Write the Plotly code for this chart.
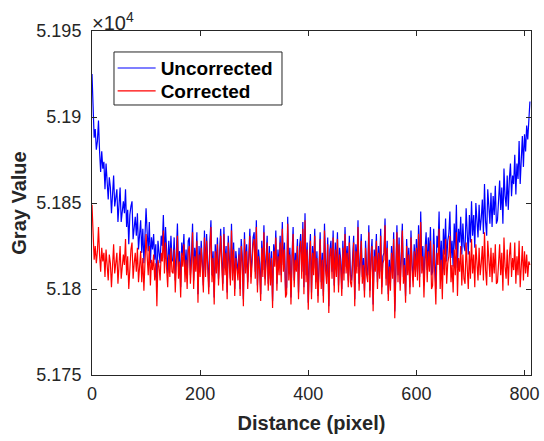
import plotly.graph_objects as go

# Distance (pixel) sample positions
distance = list(range(0, 811, 2))

uncorrected = [
    51925, 51901, 51888, 51893, 51881, 51886, 51898, 51880, 51868, 51880, 51870, 51874, 51858, 51873, 51861,
    51852, 51865, 51859, 51844, 51860, 51866, 51848, 51852, 51858, 51839, 51852, 51859, 51839, 51844, 51851,
    51844, 51858, 51836, 51846, 51826, 51843, 51848, 51851, 51829, 51837, 51842, 51831, 51844, 51823, 51835,
    51840, 51821, 51835, 51815, 51829, 51847, 51833, 51822, 51839, 51815, 51830, 51823, 51832, 51817, 51826,
    51801, 51828, 51823, 51815, 51831, 51825, 51843, 51818, 51836, 51820, 51809, 51828, 51815, 51831, 51817,
    51816, 51830, 51805, 51825, 51838, 51813, 51822, 51801, 51827, 51819, 51832, 51810, 51823, 51806, 51828,
    51830, 51808, 51820, 51838, 51805, 51824, 51815, 51833, 51797, 51825, 51812, 51828, 51816, 51802, 51834,
    51811, 51832, 51817, 51801, 51827, 51840, 51808, 51822, 51795, 51826, 51813, 51830, 51806, 51820, 51835,
    51818, 51803, 51836, 51812, 51825, 51798, 51831, 51816, 51806, 51838, 51809, 51827, 51800, 51822, 51815,
    51809, 51824, 51800, 51829, 51819, 51794, 51833, 51813, 51826, 51804, 51822, 51835, 51807, 51817, 51830,
    51833, 51810, 51840, 51802, 51823, 51815, 51797, 51828, 51811, 51837, 51806, 51820, 51831, 51803, 51825,
    51806, 51822, 51793, 51826, 51817, 51834, 51803, 51823, 51812, 51831, 51808, 51839, 51814, 51827, 51799,
    51801, 51842, 51809, 51824, 51795, 51820, 51836, 51805, 51821, 51814, 51829, 51798, 51825, 51832, 51810,
    51839, 51801, 51844, 51808, 51827, 51792, 51819, 51832, 51798, 51825, 51812, 51835, 51804, 51822, 51796,
    51814, 51833, 51804, 51821, 51796, 51838, 51815, 51807, 51830, 51790, 51823, 51828, 51810, 51834, 51802,
    51827, 51811, 51833, 51802, 51824, 51817, 51800, 51828, 51809, 51836, 51813, 51825, 51805, 51831, 51808,
    51805, 51822, 51831, 51794, 51826, 51813, 51840, 51803, 51821, 51832, 51807, 51818, 51799, 51828, 51812,
    51808, 51837, 51799, 51820, 51829, 51791, 51823, 51814, 51832, 51804, 51825, 51810, 51835, 51801, 51819,
    51821, 51841, 51806, 51828, 51797, 51817, 51803, 51825, 51810, 51833, 51787, 51822, 51837, 51808, 51830,
    51803, 51824, 51838, 51807, 51818, 51796, 51829, 51812, 51824, 51801, 51834, 51815, 51805, 51826, 51811,
    51829, 51810, 51837, 51807, 51845, 51815, 51825, 51802, 51823, 51833, 51811, 51830, 51818, 51836, 51808,
    51810, 51835, 51816, 51800, 51831, 51824, 51845, 51811, 51828, 51805, 51835, 51820, 51841, 51816, 51828,
    51832, 51845, 51818, 51828, 51813, 51838, 51823, 51849, 51812, 51835, 51827, 51842, 51820, 51838, 51825,
    51822, 51847, 51833, 51820, 51843, 51827, 51851, 51831, 51843, 51824, 51850, 51836, 51830, 51849, 51834,
    51841, 51852, 51832, 51861, 51839, 51831, 51858, 51847, 51838, 51856, 51836, 51854, 51843, 51860, 51838,
    51840, 51852, 51863, 51846, 51859, 51838, 51870, 51854, 51848, 51866, 51846, 51864, 51873, 51854, 51866,
    51861, 51878, 51855, 51873, 51864, 51886, 51861, 51879, 51889, 51871, 51890, 51880, 51895, 51887, 51903,
    51909,
]

corrected = [
    51849, 51828, 51817, 51825, 51815, 51822, 51836, 51820, 51810, 51824, 51816, 51821, 51807, 51823, 51813,
    51805, 51820, 51815, 51801, 51818, 51826, 51809, 51814, 51821, 51803, 51817, 51825, 51806, 51812, 51820,
    51814, 51829, 51808, 51819, 51800, 51817, 51823, 51827, 51806, 51815, 51821, 51810, 51824, 51804, 51816,
    51822, 51804, 51818, 51799, 51813, 51832, 51819, 51808, 51825, 51802, 51817, 51811, 51820, 51805, 51815,
    51790, 51817, 51813, 51805, 51821, 51816, 51834, 51809, 51827, 51812, 51801, 51820, 51807, 51824, 51810,
    51809, 51823, 51798, 51818, 51831, 51806, 51816, 51795, 51821, 51813, 51826, 51804, 51817, 51800, 51822,
    51825, 51803, 51815, 51833, 51800, 51819, 51810, 51828, 51792, 51820, 51807, 51824, 51812, 51798, 51830,
    51807, 51828, 51813, 51797, 51823, 51836, 51804, 51818, 51791, 51822, 51809, 51826, 51802, 51816, 51831,
    51814, 51799, 51832, 51808, 51821, 51794, 51827, 51812, 51802, 51834, 51805, 51823, 51796, 51818, 51811,
    51805, 51820, 51796, 51825, 51815, 51790, 51829, 51809, 51822, 51800, 51818, 51831, 51803, 51813, 51826,
    51829, 51806, 51836, 51798, 51819, 51811, 51793, 51824, 51807, 51833, 51802, 51816, 51827, 51799, 51821,
    51802, 51818, 51789, 51822, 51813, 51830, 51799, 51819, 51808, 51827, 51804, 51835, 51810, 51823, 51795,
    51797, 51838, 51805, 51820, 51791, 51816, 51832, 51801, 51817, 51810, 51825, 51794, 51821, 51828, 51806,
    51835, 51797, 51840, 51804, 51823, 51788, 51815, 51828, 51794, 51821, 51808, 51831, 51800, 51818, 51792,
    51810, 51829, 51800, 51817, 51792, 51834, 51811, 51803, 51826, 51786, 51819, 51824, 51806, 51830, 51798,
    51823, 51807, 51829, 51798, 51820, 51813, 51796, 51824, 51805, 51832, 51809, 51821, 51801, 51827, 51804,
    51801, 51818, 51827, 51790, 51822, 51809, 51836, 51799, 51817, 51828, 51803, 51814, 51795, 51824, 51808,
    51804, 51833, 51795, 51816, 51825, 51787, 51819, 51810, 51828, 51800, 51821, 51806, 51831, 51797, 51815,
    51817, 51837, 51802, 51824, 51793, 51813, 51799, 51821, 51806, 51829, 51783, 51818, 51833, 51804, 51826,
    51799, 51820, 51834, 51803, 51814, 51792, 51825, 51808, 51820, 51797, 51830, 51811, 51801, 51822, 51807,
    51824, 51805, 51832, 51801, 51839, 51809, 51819, 51795, 51816, 51826, 51804, 51822, 51810, 51828, 51800,
    51802, 51826, 51807, 51791, 51821, 51814, 51835, 51800, 51817, 51794, 51823, 51808, 51829, 51803, 51815,
    51819, 51831, 51804, 51814, 51798, 51823, 51808, 51833, 51796, 51818, 51810, 51825, 51802, 51820, 51806,
    51803, 51827, 51813, 51800, 51822, 51806, 51829, 51809, 51820, 51801, 51826, 51812, 51805, 51824, 51808,
    51815, 51825, 51805, 51833, 51811, 51802, 51828, 51817, 51807, 51824, 51804, 51821, 51809, 51826, 51803,
    51804, 51816, 51826, 51808, 51821, 51799, 51830, 51813, 51806, 51823, 51802, 51819, 51827, 51807, 51818,
    51811, 51827, 51803, 51819, 51808, 51828, 51801, 51817, 51825, 51805, 51822, 51809, 51820, 51807, 51816,
    51814,
]

y_tickvals = [51750, 51800, 51850, 51900, 51950]
y_ticktext = ["5.175", "5.18", "5.185", "5.19", "5.195"]
x_tickvals = [0, 200, 400, 600, 800]

FONT = "Liberation Sans, Arial, Helvetica, sans-serif"
AX = "#262626"
LEG_FONT = dict(family=FONT, size=19, color="black", weight="bold")

fig = go.Figure()
fig.add_trace(go.Scatter(x=distance, y=uncorrected, mode="lines", name="Uncorrected",
                         line=dict(color="#0000FF", width=1.2), legend="legend"))
fig.add_trace(go.Scatter(x=distance, y=corrected, mode="lines", name="Corrected",
                         line=dict(color="#FF0000", width=1.2), legend="legend2"))

fig.update_layout(
    width=544, height=441,
    margin=dict(l=92, r=13, t=31, b=66, autoexpand=False),
    paper_bgcolor="white", plot_bgcolor="white",
    font=dict(family=FONT, size=18, color=AX),
    showlegend=True,
    legend=dict(x=0.047, y=0.892, xanchor="left", yanchor="middle",
                bgcolor="rgba(0,0,0,0)", borderwidth=0,
                font=LEG_FONT, itemwidth=38),
    legend2=dict(x=0.047, y=0.8256, xanchor="left", yanchor="middle",
                 bgcolor="rgba(0,0,0,0)", borderwidth=0,
                 font=LEG_FONT, itemwidth=38),
    shapes=[dict(type="rect", xref="paper", yref="paper",
                 x0=0.0501, x1=0.4328, y0=0.7849, y1=0.939,
                 line=dict(color=AX, width=1), fillcolor="white", layer="above")],
    xaxis=dict(range=[0, 812], tickvals=x_tickvals, ticks="inside", ticklen=5,
               tickcolor=AX, showline=True, linecolor=AX, linewidth=1, mirror="ticks",
               showgrid=False, zeroline=False, ticklabelstandoff=2, automargin=False,
               tickfont=dict(family=FONT, size=18, color=AX),
               title=dict(text="Distance (pixel)", standoff=13,
                          font=dict(family=FONT, size=20, color=AX, weight="bold"))),
    yaxis=dict(range=[51750, 51950], tickvals=y_tickvals, ticktext=y_ticktext,
               ticks="inside", ticklen=5, tickcolor=AX, showline=True, linecolor=AX,
               linewidth=1, mirror="ticks", showgrid=False, zeroline=False,
               ticklabelstandoff=6, automargin=False,
               tickfont=dict(family=FONT, size=18, color=AX),
               title=dict(text="Gray Value", standoff=4,
                          font=dict(family=FONT, size=20, color=AX, weight="bold"))),
    annotations=[dict(text="\u00d710<sup>4</sup>", xref="paper", yref="paper",
                      x=0, y=1, xanchor="left", yanchor="bottom", showarrow=False,
                      xshift=-2, yshift=-5,
                      font=dict(family=FONT, size=20, color=AX))],
)

fig.write_html("out.html", config={"displayModeBar": False},
               post_script="document.body.style.margin='0px';")
